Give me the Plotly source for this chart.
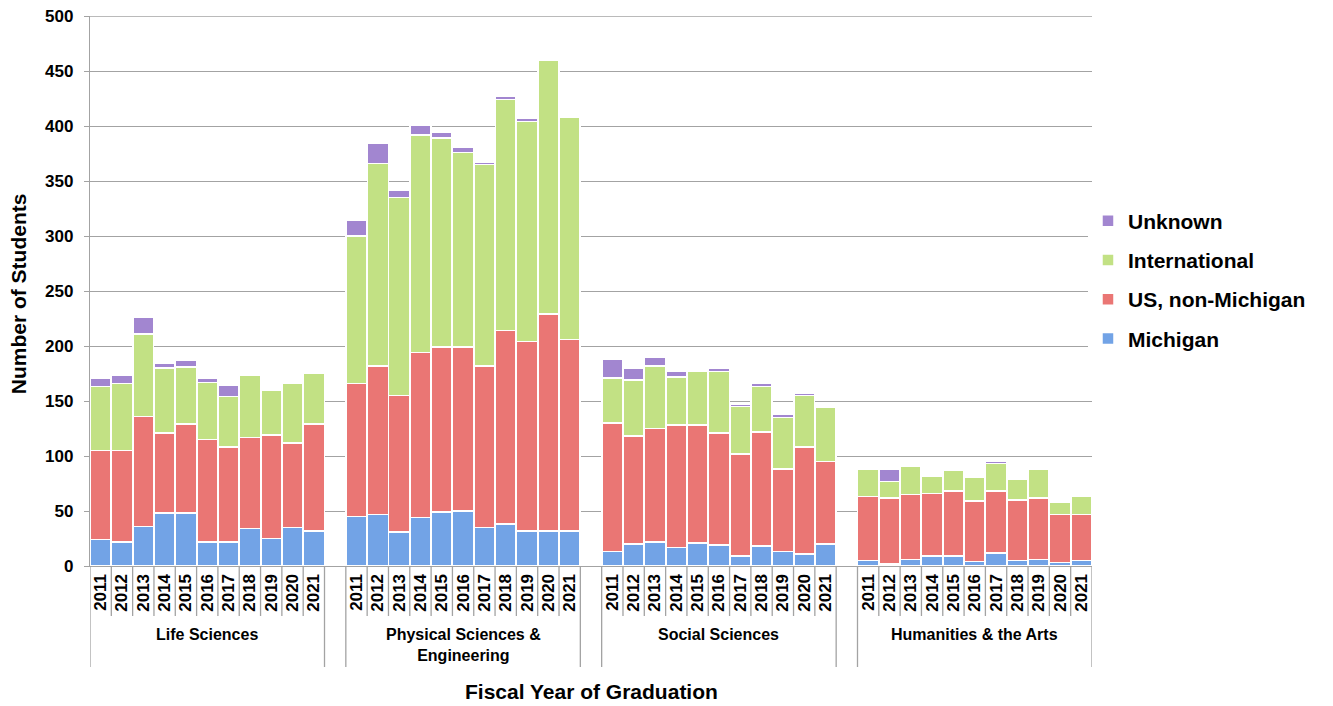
import plotly.graph_objects as go

# Students by fiscal year of graduation, field and residency
groups = ["Life Sciences", "Physical Sciences &<br>Engineering", "Social Sciences", "Humanities & the Arts"]
years = ["2011", "2012", "2013", "2014", "2015", "2016", "2017", "2018", "2019", "2020", "2021"]

# values listed group by group (11 years each)
michigan = [24, 22, 36, 48, 48, 22, 22, 34, 25, 35, 32,
            45, 47, 31, 44, 49, 50, 35, 38, 32, 32, 32,
            13, 20, 22, 17, 21, 19, 9, 18, 13, 11, 20,
            5, 2, 6, 9, 9, 4, 12, 5, 6, 3, 5]
us_non_michigan = [81, 83, 100, 73, 81, 93, 86, 83, 94, 77, 97,
                   121, 135, 124, 150, 150, 149, 147, 176, 172, 197, 174,
                   117, 98, 103, 111, 107, 102, 93, 104, 75, 97, 75,
                   58, 60, 59, 57, 59, 55, 56, 55, 56, 44, 42]
international = [58, 61, 75, 59, 52, 52, 46, 56, 41, 54, 46,
                 134, 184, 180, 198, 190, 177, 183, 210, 200, 231, 202,
                 41, 51, 57, 44, 49, 56, 43, 41, 47, 47, 49,
                 25, 15, 26, 16, 19, 22, 25, 19, 26, 11, 16]
unknown = [8, 7, 15, 4, 6, 4, 10, 0, 1, 0, 0,
           14, 18, 7, 9, 5, 5, 2, 3, 3, 0, 1,
           17, 11, 8, 5, 0, 3, 2, 3, 3, 2, 0,
           1, 11, 0, 0, 0, 1, 2, 2, 1, 0, 0]

series = [
    ("Michigan", michigan, "#72a3e6"),
    ("US, non-Michigan", us_non_michigan, "#ea7674"),
    ("International", international, "#c2e184"),
    ("Unknown", unknown, "#a286d0"),
]

Y_MAX = 500

# one empty slot between groups
n_years = len(years)
slot = n_years + 1
xpos = [g * slot + i for g in range(len(groups)) for i in range(n_years)]
ticktext = years * len(groups)

FONT = "Arial, Liberation Sans, sans-serif"
GRID = "#a3a3a3"

fig = go.Figure()
for k, (name, vals, color) in enumerate(series):
    fig.add_trace(go.Bar(
        x=xpos, y=vals, name="<b>" + name + "</b>", legendgroup=name,
        legendrank=len(series) - k,
        marker=dict(color=color, line=dict(color="white", width=1.5)),
    ))

PLOT_H = 550  # px height of plot area
PLOT_W = 1002
# top gridline sits on the plot edge, plotly skips it
shapes = [dict(type="line", xref="paper", yref="y", x0=0, x1=1, y0=Y_MAX, y1=Y_MAX,
               line=dict(color=GRID, width=1.3))]
for g in range(len(groups)):
    left = g * slot - 0.5
    right = g * slot + n_years - 0.5
    for xb in (left, right):
        shapes.append(dict(type="line", xref="x", yref="paper", x0=xb, x1=xb,
                           y0=0, y1=-101 / PLOT_H, line=dict(color=GRID, width=1.3)))
    for i in range(1, n_years):
        xb = g * slot + i - 0.5
        shapes.append(dict(type="line", xref="x", yref="paper", x0=xb, x1=xb,
                           y0=0, y1=-50 / PLOT_H, line=dict(color=GRID, width=1.3)))

annotations = []
for g, label in enumerate(groups):
    annotations.append(dict(x=g * slot + (n_years - 1) / 2, xref="x", y=-58 / PLOT_H, yref="paper",
                            text="<b>" + label + "</b>", showarrow=False, yanchor="top",
                            font=dict(family=FONT, size=16, color="black")))
annotations.append(dict(x=0.5, xref="paper", y=-139 / PLOT_H, yref="paper",
                        text="<b>Fiscal Year of Graduation</b>", showarrow=False,
                        font=dict(family=FONT, size=21, color="black")))
annotations.append(dict(x=-85 / PLOT_W, xref="paper", y=0.495, yref="paper",
                        text="<b>Number of Students</b>", showarrow=False, textangle=-90,
                        font=dict(family=FONT, size=21, color="black")))

fig.update_layout(
    width=1333, height=706,
    margin=dict(l=90, r=241, t=16, b=140, autoexpand=False),
    barmode="stack", bargap=0.02,
    plot_bgcolor="white", paper_bgcolor="white",
    font=dict(family=FONT, color="black"),
    showlegend=True,
    legend=dict(x=0.996, xanchor="left", y=0.52, yanchor="middle",
                traceorder="grouped", tracegroupgap=9,
                font=dict(family=FONT, size=21, color="black")),
    shapes=shapes,
    annotations=annotations,
)
fig.update_xaxes(
    range=[-0.5, len(groups) * slot - 1.5], automargin=False,
    tickmode="array", tickvals=xpos, ticktext=["<b>" + t + "</b>" for t in ticktext],
    tickangle=-90, tickfont=dict(family=FONT, size=17, color="black"),
    showgrid=False, zeroline=False, showline=True, linecolor=GRID, linewidth=1.3,
    ticks="",
)
fig.update_yaxes(
    range=[0, Y_MAX], dtick=50, tickformat="d", automargin=False,
    showgrid=True, gridcolor=GRID, gridwidth=1.3,
    showline=True, linecolor=GRID, linewidth=1.3, zeroline=False,
    ticks="outside", ticklen=5, tickcolor=GRID, ticklabelstandoff=7,
    tickprefix="<b>", ticksuffix="</b>",
    tickfont=dict(family=FONT, size=17, color="black"),
)

# drop the default 8px page margin so the figure sits at the window corner
fig.write_html("out.html", config={"displayModeBar": False},
               post_script="document.body.style.margin='0';")
